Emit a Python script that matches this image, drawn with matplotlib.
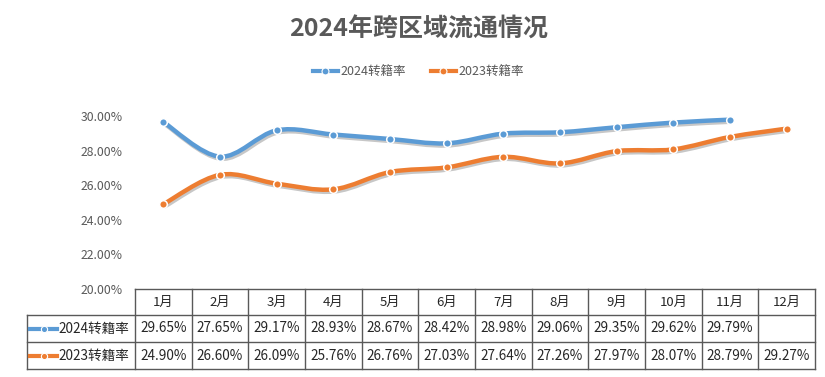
import matplotlib
matplotlib.use("Agg")
import matplotlib.pyplot as plt
from matplotlib.path import Path
from matplotlib.patches import PathPatch
from matplotlib.lines import Line2D
import matplotlib.patheffects as pe
from matplotlib.transforms import blended_transform_factory

plt.rcParams['font.family'] = ['Noto Sans CJK SC', 'DejaVu Sans']

title = "2024年跨区域流通情况"
months = ["1月", "2月", "3月", "4月", "5月", "6月", "7月", "8月", "9月", "10月", "11月", "12月"]
series_names = ["2024转籍率", "2023转籍率"]
s2024 = [29.65, 27.65, 29.17, 28.93, 28.67, 28.42, 28.98, 29.06, 29.35, 29.62, 29.79]
s2023 = [24.90, 26.60, 26.09, 25.76, 26.76, 27.03, 27.64, 27.26, 27.97, 28.07, 28.79, 29.27]
yticks = [20, 22, 24, 26, 28, 30]
colors = ["#5B9BD5", "#ED7D31"]
gray = "#595959"
textc = "#262626"

W, H = 825, 377
fig = plt.figure(figsize=(W / 100, H / 100), dpi=100)

def fx(p):
    return p / W

def fy(p):
    return 1 - p / H

ax = fig.add_axes([fx(135), fy(289), fx(815) - fx(135), fy(98.7) - fy(289)])
ax.set_xlim(-0.5, len(months) - 0.5)
ax.set_ylim(20, 31)
for s in ax.spines.values():
    s.set_visible(False)
ax.set_xticks([])
ax.set_yticks(yticks)
ax.set_yticklabels([f"{v:.2f}%" for v in yticks])
ax.tick_params(axis='y', length=0, pad=9, labelsize=8.8, labelcolor=gray)


def smooth_path(xs, ys):
    pts = list(zip(xs, ys))
    verts = [pts[0]]
    codes = [Path.MOVETO]
    n = len(pts)
    for i in range(n - 1):
        p0 = pts[i - 1] if i > 0 else pts[i]
        p1 = pts[i]
        p2 = pts[i + 1]
        p3 = pts[i + 2] if i + 2 < n else pts[i + 1]
        c1 = (p1[0] + (p2[0] - p0[0]) / 6, p1[1] + (p2[1] - p0[1]) / 6)
        c2 = (p2[0] - (p3[0] - p1[0]) / 6, p2[1] - (p3[1] - p1[1]) / 6)
        verts += [c1, c2, p2]
        codes += [Path.CURVE4] * 3
    return Path(verts, codes)


for vals, col in [(s2024, colors[0]), (s2023, colors[1])]:
    xs = list(range(len(vals)))
    patch = PathPatch(smooth_path(xs, vals), facecolor='none', edgecolor=col,
                      lw=3.2, capstyle='round', joinstyle='round', zorder=2)
    patch.set_path_effects([pe.SimpleLineShadow(offset=(1.0, -1.5), shadow_color='black', alpha=0.22),
                            pe.Normal()])
    ax.add_patch(patch)
    ax.plot(xs, vals, ls='none', marker='o', ms=5.5, mfc=col, mec='white', mew=1.1, zorder=3,
            clip_on=False)

# Title
fig.text(fx(419), fy(30), title, ha='center', va='center', fontsize=18,
         fontweight='bold', color=gray)

# Legend
handles = [Line2D([], [], color=c, lw=3, marker='o', ms=5, mfc=c, mec='white', mew=0.8)
           for c in colors]
fig.legend(handles, series_names, loc='center', bbox_to_anchor=(fx(418), fy(72)),
           ncol=2, frameon=False, fontsize=9, handlelength=2.0, handletextpad=0.2,
           columnspacing=2.0, labelcolor=gray)

# Data table
tr = blended_transform_factory(ax.transData, fig.transFigure)
ftr = fig.transFigure
rows_y = [289, 315, 342, 369]
lc = gray
lw = 1.0
n = len(months)
fig.add_artist(Line2D([fx(135), fx(815)], [fy(289), fy(289)], color=lc, lw=lw, transform=ftr))
for p in rows_y[1:]:
    fig.add_artist(Line2D([fx(27), fx(815)], [fy(p), fy(p)], color=lc, lw=lw, transform=ftr))
for i in range(n + 1):
    fig.add_artist(Line2D([i - 0.5, i - 0.5], [fy(289), fy(369)], color=lc, lw=lw, transform=tr))
fig.add_artist(Line2D([fx(27), fx(27)], [fy(315), fy(369)], color=lc, lw=lw, transform=ftr))

row_centers = [(rows_y[k] + rows_y[k + 1]) / 2 for k in range(3)]
for i, m in enumerate(months):
    t = fig.text(0, 0, m, transform=tr, ha='center', va='center', fontsize=9.5, color=textc)
    t.set_position((i, fy(row_centers[0])))

for r, (vals, col, name) in enumerate([(s2024, colors[0], series_names[0]),
                                        (s2023, colors[1], series_names[1])]):
    yc = fy(row_centers[r + 1])
    for i, v in enumerate(vals):
        t = fig.text(0, 0, f"{v:.2f}%", transform=tr, ha='center', va='center',
                     fontsize=9.8, color=textc)
        t.set_position((i, yc))
    fig.add_artist(Line2D([fx(30), fx(57)], [yc, yc], color=col, lw=3, transform=ftr))
    fig.add_artist(Line2D([fx(43.5)], [yc], marker='o', ms=4.5, mfc=col, mec='white', mew=0.8,
                          transform=ftr))
    fig.text(fx(58), yc, name, ha='left', va='center', fontsize=9.8, color=textc)

fig.savefig("out.png", dpi=100)
